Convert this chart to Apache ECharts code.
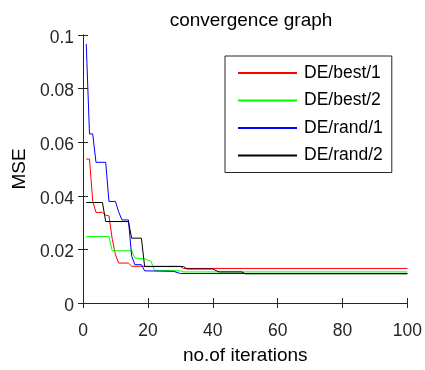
<!DOCTYPE html>
<html>
<head>
<meta charset="utf-8">
<script src="https://cdn.jsdelivr.net/npm/echarts@6/dist/echarts.min.js"></script>
<style>
  html, body { margin: 0; padding: 0; background: #fff; }
  #chart { width: 425px; height: 370px; }
</style>
</head>
<body>
<div id="chart"></div>
<script>
// Convergence of four DE variants: [iteration, MSE] breakpoints per strategy
const seriesNames = ['DE/best/1', 'DE/best/2', 'DE/rand/1', 'DE/rand/2'];
const seriesColors = ['#ff0000', '#00ff00', '#0000ff', '#000000'];

const bestOne = [
  [1, 0.0537], [2, 0.0537], [3, 0.038], [4, 0.0338], [6, 0.0338], [7, 0.0328],
  [8, 0.0325], [9, 0.024], [10, 0.018], [11, 0.0149], [14, 0.0149], [15, 0.0137],
  [30, 0.0137], [31, 0.0129], [100, 0.0129]
];
const bestTwo = [
  [1, 0.0248], [8, 0.0248], [9, 0.0195], [15, 0.0195], [16, 0.0168], [19, 0.0165],
  [20, 0.016], [21, 0.0155], [22, 0.0122], [30, 0.012], [31, 0.0116], [100, 0.0116]
];
const randOne = [
  [1, 0.0967], [2, 0.0631], [3, 0.0631], [4, 0.0525], [7, 0.0525], [8, 0.0379],
  [10, 0.0379], [11, 0.034], [12, 0.031], [14, 0.031], [15, 0.0175], [16, 0.0143],
  [18, 0.0143], [19, 0.012], [28, 0.0118], [30, 0.011], [100, 0.011]
];
const randTwo = [
  [1, 0.0375], [6, 0.0375], [7, 0.0304], [14, 0.0304], [15, 0.0242], [18, 0.0242],
  [19, 0.0136], [31, 0.0136], [32, 0.0127], [40, 0.0127], [41, 0.0121], [42, 0.0116],
  [49, 0.0116], [50, 0.0109], [100, 0.0109]
];
const seriesData = [bestOne, bestTwo, randOne, randTwo];

const xTicks = { min: 0, max: 100, interval: 20 };
const yTicks = { min: 0, max: 0.1, interval: 0.02 };

const FONT = "'Liberation Sans', Arial, Helvetica, sans-serif";
const AXIS_COLOR = '#262626';

const chart = echarts.init(document.getElementById('chart'), null, { renderer: 'canvas' });

function frameAxis(extra) {
  return Object.assign({
    axisLine: { show: true, lineStyle: { color: AXIS_COLOR, width: 1 } },
    axisTick: { show: true, inside: true, length: 5, lineStyle: { color: AXIS_COLOR, width: 1 } },
    splitLine: { show: false }
  }, extra);
}

chart.setOption({
  animation: false,
  backgroundColor: '#ffffff',
  title: {
    text: 'convergence graph',
    left: 246,
    textAlign: 'center',
    top: 6,
    textStyle: { fontFamily: FONT, fontSize: 19, fontWeight: 'normal', color: '#000' }
  },
  grid: { left: 83, right: 16, top: 35, bottom: 66 },
  legend: {
    orient: 'vertical',
    left: 225,
    top: 56,
    padding: [8, 9, 8, 12],
    itemWidth: 59,
    itemHeight: 18,
    itemGap: 9.5,
    backgroundColor: '#ffffff',
    borderColor: AXIS_COLOR,
    borderWidth: 1,
    borderRadius: 0,
    // plain line keys: the marker on each key is made invisible
    itemStyle: { opacity: 0 },
    textStyle: { fontFamily: FONT, fontSize: 17.5, color: '#000', padding: [0, 0, 0, 2] },
    data: seriesNames
  },
  xAxis: [
    frameAxis({
      type: 'value', position: 'bottom',
      min: xTicks.min, max: xTicks.max, interval: xTicks.interval,
      name: 'no.of iterations', nameLocation: 'middle', nameGap: 43,
      nameTextStyle: { fontFamily: FONT, fontSize: 19, color: '#000' },
      axisLabel: { fontFamily: FONT, fontSize: 17.5, color: AXIS_COLOR, margin: 19 }
    }),
    frameAxis({
      type: 'value', position: 'top',
      min: xTicks.min, max: xTicks.max, interval: xTicks.interval,
      axisLabel: { show: false }
    })
  ],
  yAxis: [
    frameAxis({
      type: 'value', position: 'left',
      min: yTicks.min, max: yTicks.max, interval: yTicks.interval,
      name: 'MSE', nameLocation: 'middle', nameGap: 53, nameRotate: 90,
      nameTextStyle: { fontFamily: FONT, fontSize: 19, color: '#000' },
      axisLabel: {
        fontFamily: FONT, fontSize: 17.5, color: AXIS_COLOR, margin: 9,
        verticalAlign: 'top', lineHeight: 6,
        formatter: v => String(parseFloat(v.toFixed(4)))
      }
    }),
    frameAxis({
      type: 'value', position: 'right',
      min: yTicks.min, max: yTicks.max, interval: yTicks.interval,
      axisLabel: { show: false }
    })
  ],
  series: seriesNames.map((name, i) => ({
    name: name,
    type: 'line',
    xAxisIndex: 0,
    yAxisIndex: 0,
    data: seriesData[i],
    showSymbol: false,
    symbol: 'none',
    color: seriesColors[i],
    lineStyle: { color: seriesColors[i], width: 1 },
    z: 2 + i
  }))
});
</script>
</body>
</html>
